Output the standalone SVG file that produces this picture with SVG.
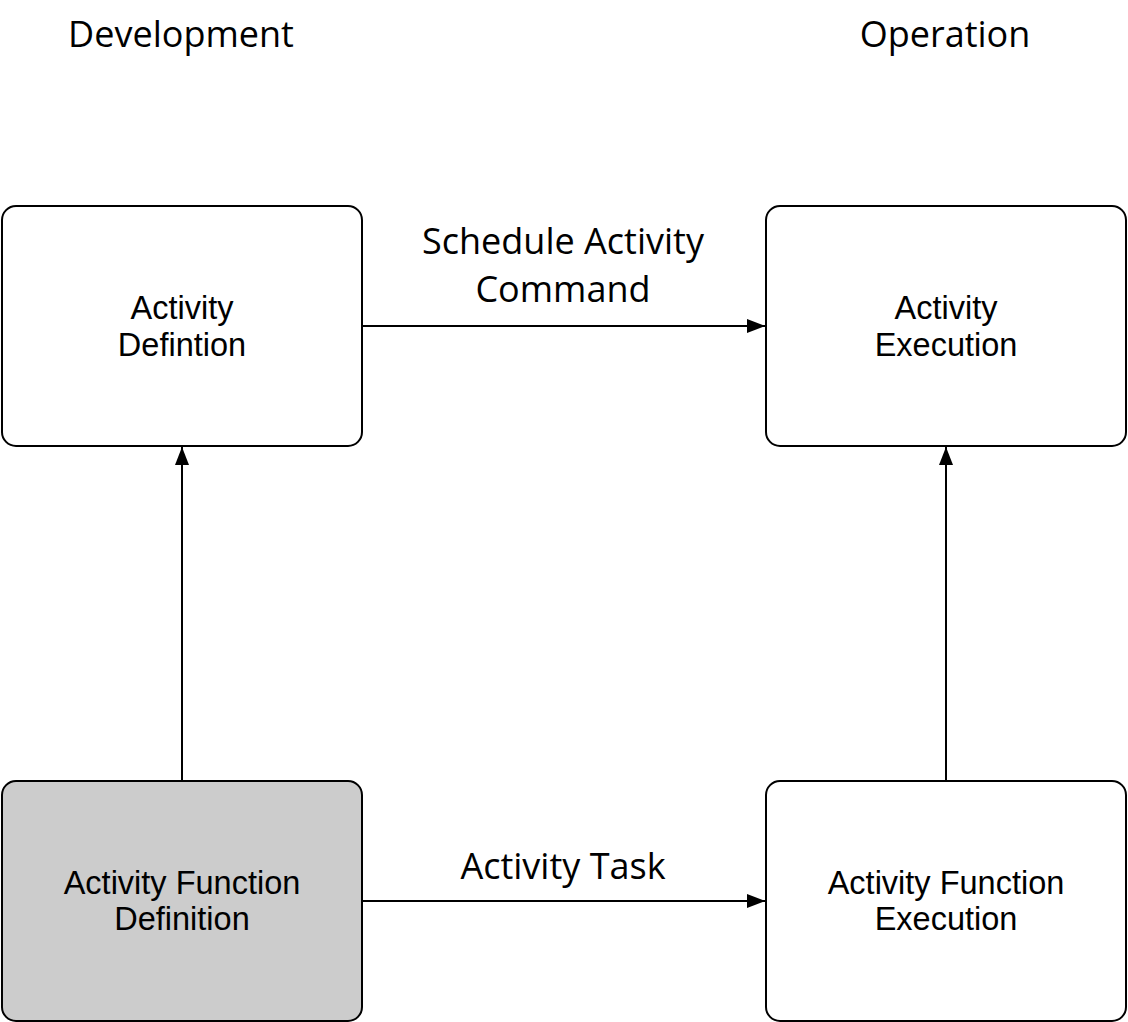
<svg xmlns="http://www.w3.org/2000/svg" width="1128" height="1022" viewBox="0 0 1128 1022">
<style>
.box{stroke:#000;stroke-width:2;fill:#fff}
.gray{fill:#cccccc}
.nt{font-family:"Liberation Sans",Arial,sans-serif;font-size:32.5px;fill:#000;text-anchor:middle}
.lt{font-family:"Open Sans","Noto Sans",sans-serif;font-size:36px;fill:#000;text-anchor:middle}
.edge{stroke:#000;stroke-width:2;fill:none}
</style>
<defs>
<marker id="ah" markerWidth="18" markerHeight="14" refX="18" refY="7" orient="auto" markerUnits="userSpaceOnUse">
<path d="M0,0 L18,7 L0,14 Z" fill="#000"/>
</marker>
</defs>
<rect width="1128" height="1022" fill="#fff"/>
<g id="titles">
<text class="lt" x="181" y="47">Development</text>
<text class="lt" x="945" y="47">Operation</text>
</g>
<g id="connectors">
<line class="edge" x1="362" y1="326" x2="765" y2="326" marker-end="url(#ah)"/>
<line class="edge" x1="362" y1="901" x2="765" y2="901" marker-end="url(#ah)"/>
<line class="edge" x1="182" y1="781" x2="182" y2="447" marker-end="url(#ah)"/>
<line class="edge" x1="946" y1="781" x2="946" y2="447" marker-end="url(#ah)"/>
<text class="lt" x="563" y="254">Schedule Activity</text>
<text class="lt" x="563" y="302">Command</text>
<text class="lt" x="563" y="879">Activity Task</text>
</g>
<g id="activity-definition">
<rect class="box" x="2" y="206" width="360" height="240" rx="14"/>
<text class="nt" x="182" y="319">Activity</text>
<text class="nt" x="182" y="356">Defintion</text>
</g>
<g id="activity-execution">
<rect class="box" x="766" y="206" width="360" height="240" rx="14"/>
<text class="nt" x="946" y="319">Activity</text>
<text class="nt" x="946" y="356">Execution</text>
</g>
<g id="activity-function-definition">
<rect class="box gray" x="2" y="781" width="360" height="240" rx="14"/>
<text class="nt" x="182" y="894">Activity Function</text>
<text class="nt" x="182" y="930">Definition</text>
</g>
<g id="activity-function-execution">
<rect class="box" x="766" y="781" width="360" height="240" rx="14"/>
<text class="nt" x="946" y="894">Activity Function</text>
<text class="nt" x="946" y="930">Execution</text>
</g>
</svg>
